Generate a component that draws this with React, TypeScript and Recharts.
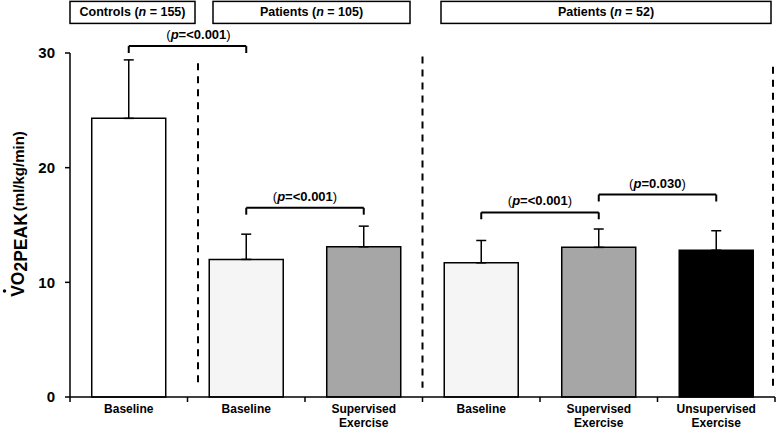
import React from 'react';
import { BarChart, Bar, Cell, XAxis, YAxis, ErrorBar, ReferenceLine, ReferenceArea } from 'recharts';

// one bar per group/timepoint, in draw order
const categories = ['ctrl-base', 'p105-base', 'p105-sup', 'p52-base', 'p52-sup', 'p52-unsup'];
const tickLabels = [
  ['Baseline'],
  ['Baseline'],
  ['Supervised', 'Exercise'],
  ['Baseline'],
  ['Supervised', 'Exercise'],
  ['Unsupervised', 'Exercise'],
];
const means = [24.3, 12.0, 13.1, 11.7, 13.05, 12.8];
const sds = [5.1, 2.2, 1.8, 1.95, 1.6, 1.7];

const groupNames = ['Controls', 'Patients', 'Patients'];
const groupN = [155, 105, 52];
const groupLast = ['ctrl-base', 'p105-sup', 'p52-unsup'];

const comparisons = [
  { from: 'ctrl-base', to: 'p105-base', p: '<0.001' },
  { from: 'p105-base', to: 'p105-sup', p: '<0.001' },
  { from: 'p52-base', to: 'p52-sup', p: '<0.001' },
  { from: 'p52-sup', to: 'p52-unsup', p: '0.030' },
];

const barFills = ['#ffffff', '#f5f5f5', '#a6a6a6', '#f5f5f5', '#a6a6a6', '#000000'];
const bracketLevels = [30.6, 16.5, 16.1, 17.65];
const pLabelShift = [11, 0, 0, 0];
// header boxes: band span they hang from + pixel insets from its edges
const headerFrom = ['ctrl-base', 'p105-base', 'p52-base'];
const headerTo = ['p105-base', 'p105-sup', 'p52-unsup'];
const headerInset = [[0, -110], [25.5, -12.5], [18.5, -4]];
const dividerTop = [29.1, 29.7, 28.8];
const dividerShift = [10.5, 0, -2];

const W = 777;
const H = 430;
const Y_AXIS_W = 70;
const RIGHT = 2;
const BAND = (W - Y_AXIS_W - RIGHT) / categories.length;
const FONT = '"Liberation Sans", Arial, sans-serif';

const data = categories.map((c, i) => ({ key: c, mean: means[i], err: [0, sds[i]] }));

const XTick = (props: any) => {
  const { x, y, index } = props;
  const lines = tickLabels[index] || [];
  const left = x - BAND / 2;
  return (
    <g>
      <line x1={left} x2={left} y1={y} y2={y + 5} stroke="#000" strokeWidth={1.5} />
      {index === categories.length - 1 && (
        <line x1={x + BAND / 2} x2={x + BAND / 2} y1={y} y2={y + 5} stroke="#000" strokeWidth={1.5} />
      )}
      <text x={x} y={y + 16} textAnchor="middle" fontFamily={FONT} fontSize={12} fontWeight="bold" fill="#000">
        {lines.map((l, i) => (
          <tspan key={i} x={x} dy={i === 0 ? 0 : 14}>{l}</tspan>
        ))}
      </text>
    </g>
  );
};

const YLabel = () => {
  const cx = 17.5;
  const cy = 214;
  return (
    <g>
      <text
        x={cx}
        y={cy}
        transform={`rotate(-90, ${cx}, ${cy})`}
        textAnchor="middle"
        dominantBaseline="central"
        fontFamily={FONT}
        fontSize={17}
        fontWeight="bold"
        fill="#000"
      >
        <tspan fontSize={17.5}>VO</tspan>
        <tspan fontSize={17.5} dy={3}>2PEAK</tspan>
        <tspan fontSize={15} dy={-3} dx={2}>(ml/kg/min)</tspan>
      </text>
      {/* the "dot" of V-dot */}
      <circle cx={cx - 13} cy={cy + 77} r={1.7} fill="#000" />
    </g>
  );
};

const pLabel = (p: string, shift: number) => (props: any) => {
  const vb = props.viewBox;
  if (!vb) return null;
  const cx = vb.x + vb.width / 2 + shift;
  return (
    <text x={cx} y={vb.y - 7} textAnchor="middle" fontFamily={FONT} fontSize={13} fill="#000">
      <tspan>(</tspan>
      <tspan fontWeight="bold" fontStyle="italic">p</tspan>
      <tspan fontWeight="bold">{'=' + p}</tspan>
      <tspan>)</tspan>
    </text>
  );
};

const headerShape = (i: number) => (props: any) => {
  const { x, y, width, height } = props;
  const [l, r] = headerInset[i];
  const bx = x + l;
  const bw = width - l + r;
  return (
    <g>
      <rect x={bx} y={y} width={bw} height={height} fill="#fff" stroke="#000" strokeWidth={1.5} />
      <text
        x={bx + bw / 2}
        y={y + height / 2}
        dominantBaseline="central"
        textAnchor="middle"
        fontFamily={FONT}
        fontSize={12.5}
        fontWeight="bold"
        fill="#000"
      >
        {groupNames[i] + ' ('}
        <tspan fontStyle="italic">n</tspan>
        {' = ' + groupN[i] + ')'}
      </text>
    </g>
  );
};

const dividerShape = (shift: number) => (props: any) => {
  const { x1, y1, x2, y2 } = props;
  return (
    <line
      x1={x1 + shift}
      y1={y1}
      x2={x2 + shift}
      y2={y2}
      stroke="#000"
      strokeWidth={2}
      strokeDasharray="7 6"
    />
  );
};

export default function App() {
  return (
    <div style={{ position: 'absolute', left: 0, top: 0, background: '#fff' }}>
      <BarChart
        width={W}
        height={H}
        data={data}
        margin={{ top: 53, right: RIGHT, bottom: 0, left: 0 }}
        barCategoryGap="18.5%"
      >
        <XAxis
          dataKey="key"
          height={33}
          interval={0}
          tickLine={false}
          tickSize={0}
          tickMargin={0}
          axisLine={{ stroke: '#000', strokeWidth: 1.5 }}
          tick={<XTick />}
        />
        <YAxis
          width={Y_AXIS_W}
          domain={[0, 30]}
          ticks={[0, 10, 20, 30]}
          tickSize={5}
          tickMargin={10}
          axisLine={{ stroke: '#000', strokeWidth: 1.5 }}
          tickLine={{ stroke: '#000', strokeWidth: 1.5 }}
          tick={{ fill: '#000', fontSize: 15, fontWeight: 'bold', fontFamily: FONT }}
          label={<YLabel />}
        />
        <Bar dataKey="mean" isAnimationActive={false} stroke="#000" strokeWidth={1.5}>
          {data.map((_, i) => (
            <Cell key={i} fill={barFills[i]} />
          ))}
          <ErrorBar dataKey="err" direction="y" width={5} stroke="#000" strokeWidth={1.5} />
        </Bar>

        {/* group dividers, at the right edge of each group */}
        {groupLast.map((c, i) => (
          <ReferenceLine
            key={`div-${i}`}
            segment={[{ x: c, y: dividerTop[i] }, { x: c, y: 0.8 }]}
            position="end"
            ifOverflow="visible"
            shape={dividerShape(dividerShift[i])}
          />
        ))}

        {/* group headers */}
        {headerFrom.map((c, i) => (
          <ReferenceArea
            key={`hdr-${i}`}
            x1={c}
            x2={headerTo[i]}
            y1={32.58}
            y2={34.5}
            ifOverflow="visible"
            shape={headerShape(i)}
          />
        ))}

        {/* significance brackets */}
        {comparisons.map((c, i) => {
          const lv = bracketLevels[i];
          return (
            <React.Fragment key={`br-${i}`}>
              <ReferenceLine
                segment={[{ x: c.from, y: lv }, { x: c.to, y: lv }]}
                stroke="#000"
                strokeWidth={2}
                ifOverflow="visible"
                label={pLabel(c.p, pLabelShift[i])}
              />
              <ReferenceLine
                segment={[{ x: c.from, y: lv }, { x: c.from, y: lv - 0.6 }]}
                stroke="#000"
                strokeWidth={2}
                ifOverflow="visible"
              />
              <ReferenceLine
                segment={[{ x: c.to, y: lv }, { x: c.to, y: lv - 0.6 }]}
                stroke="#000"
                strokeWidth={2}
                ifOverflow="visible"
              />
            </React.Fragment>
          );
        })}
      </BarChart>
    </div>
  );
}
